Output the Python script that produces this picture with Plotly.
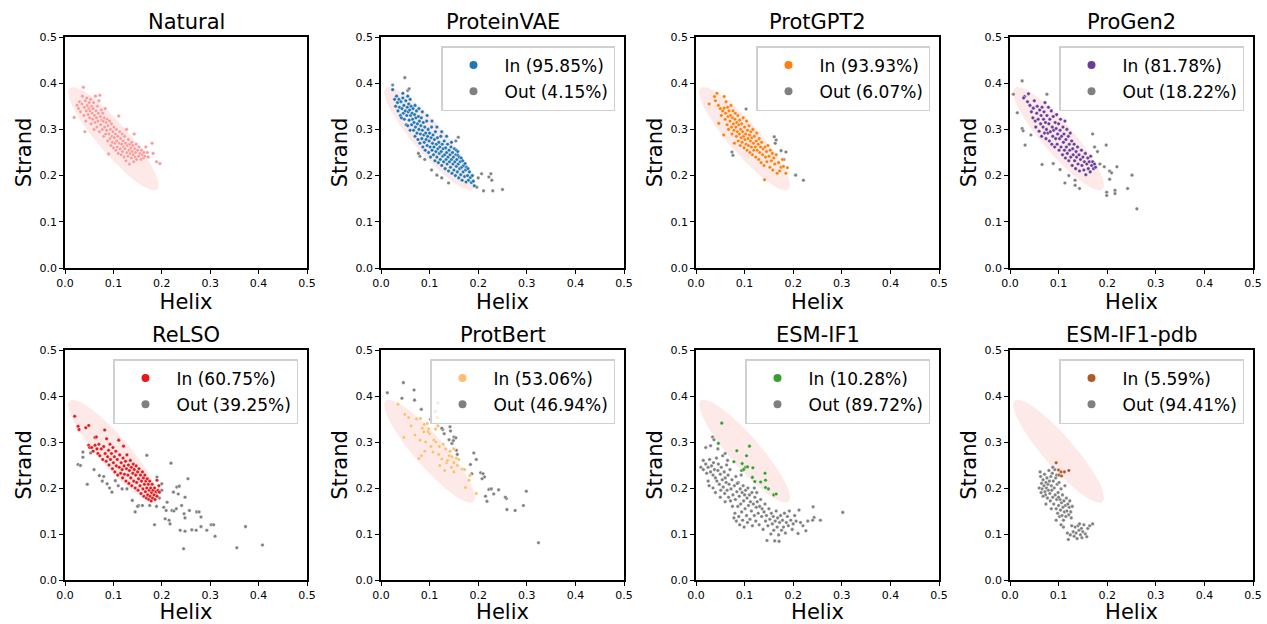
import math
import plotly.graph_objects as go

# ---------------- data ----------------
titles = ["Natural", "ProteinVAE", "ProtGPT2", "ProGen2",
          "ReLSO", "ProtBert", "ESM-IF1", "ESM-IF1-pdb"]
in_colors = ["#fb9a99", "#1f77b4", "#ff7f0e", "#6a3d9a",
             "#e31a1c", "#fdbf6f", "#33a02c", "#b15928"]
out_color = "#808080"
in_pct = [None, "95.85", "93.93", "81.78", "60.75", "53.06", "10.28", "5.59"]
out_pct = [None, "4.15", "6.07", "18.22", "39.25", "46.94", "89.72", "94.41"]
tick_vals = [0.0, 0.1, 0.2, 0.3, 0.4, 0.5]

# natural-distribution ellipse (centre, semi-axes, rotation in degrees)
ell_center = (0.100, 0.280)
ell_axes = (0.142, 0.032)
ell_angle = -50.7

natural = [
    (0.019,0.326),(0.025,0.352),(0.028,0.345),(0.030,0.360),(0.032,0.338),(0.035,0.355),
    (0.036,0.372),(0.038,0.391),(0.039,0.330),(0.040,0.348),(0.041,0.295),(0.042,0.362),
    (0.043,0.318),(0.044,0.340),(0.045,0.368),(0.046,0.352),(0.048,0.332),(0.049,0.345),
    (0.050,0.358),(0.051,0.325),(0.052,0.340),(0.053,0.365),(0.054,0.312),(0.055,0.350),
    (0.056,0.335),(0.057,0.322),(0.058,0.345),(0.059,0.358),(0.060,0.300),(0.061,0.330),
    (0.062,0.315),(0.063,0.372),(0.064,0.340),(0.065,0.325),(0.066,0.305),(0.067,0.350),
    (0.068,0.318),(0.069,0.335),(0.070,0.362),(0.071,0.295),(0.072,0.374),(0.073,0.328),
    (0.074,0.310),(0.075,0.342),(0.076,0.320),(0.077,0.300),(0.078,0.335),(0.079,0.318),
    (0.080,0.285),(0.081,0.325),(0.082,0.305),(0.083,0.345),(0.084,0.290),(0.085,0.315),
    (0.086,0.298),(0.087,0.322),(0.088,0.275),(0.089,0.308),(0.090,0.247),(0.091,0.290),
    (0.092,0.318),(0.093,0.280),(0.094,0.300),(0.095,0.265),(0.096,0.312),(0.097,0.285),
    (0.098,0.272),(0.099,0.295),(0.100,0.260),(0.101,0.305),(0.102,0.282),(0.103,0.270),
    (0.104,0.290),(0.105,0.255),(0.106,0.300),(0.107,0.275),(0.108,0.262),(0.109,0.285),
    (0.110,0.248),(0.111,0.329),(0.112,0.270),(0.113,0.295),(0.114,0.258),(0.115,0.280),
    (0.116,0.245),(0.117,0.268),(0.118,0.290),(0.119,0.252),(0.120,0.275),(0.121,0.262),
    (0.122,0.240),(0.123,0.285),(0.124,0.258),(0.125,0.270),(0.126,0.232),(0.127,0.300),
    (0.128,0.250),(0.129,0.265),(0.130,0.242),(0.131,0.278),(0.132,0.255),(0.133,0.225),
    (0.134,0.268),(0.135,0.248),(0.136,0.260),(0.137,0.238),(0.138,0.272),(0.139,0.252),
    (0.140,0.265),(0.141,0.245),(0.142,0.230),(0.143,0.290),(0.144,0.258),(0.145,0.240),
    (0.146,0.250),(0.147,0.268),(0.148,0.235),(0.150,0.255),(0.152,0.242),(0.153,0.262),
    (0.155,0.248),(0.157,0.235),(0.158,0.255),(0.160,0.245),(0.162,0.238),(0.163,0.250),
    (0.165,0.242),(0.167,0.262),(0.170,0.250),(0.172,0.240),(0.180,0.270),(0.182,0.248),
    (0.189,0.230),(0.196,0.226),
]

vae_in = [
    (0.024,0.386),(0.028,0.365),(0.030,0.350),(0.032,0.372),(0.034,0.358),(0.035,0.340),
    (0.037,0.365),(0.038,0.348),(0.040,0.330),(0.041,0.360),(0.042,0.325),(0.043,0.345),
    (0.045,0.368),(0.046,0.335),(0.047,0.352),(0.048,0.322),(0.050,0.340),(0.051,0.362),
    (0.052,0.310),(0.053,0.330),(0.054,0.348),(0.055,0.308),(0.056,0.338),(0.057,0.355),
    (0.058,0.320),(0.059,0.342),(0.060,0.298),(0.061,0.330),(0.062,0.350),(0.063,0.310),
    (0.064,0.335),(0.065,0.322),(0.066,0.345),(0.067,0.298),(0.068,0.315),(0.069,0.332),
    (0.070,0.285),(0.071,0.305),(0.072,0.325),(0.073,0.340),(0.074,0.292),(0.075,0.312),
    (0.076,0.278),(0.077,0.328),(0.078,0.300),(0.079,0.318),(0.080,0.270),(0.081,0.290),
    (0.082,0.308),(0.083,0.325),(0.084,0.280),(0.085,0.298),(0.086,0.262),(0.087,0.315),
    (0.088,0.288),(0.089,0.272),(0.090,0.305),(0.091,0.255),(0.092,0.292),(0.093,0.278),
    (0.094,0.318),(0.095,0.265),(0.096,0.285),(0.097,0.300),(0.098,0.250),(0.099,0.275),
    (0.100,0.292),(0.101,0.262),(0.102,0.240),(0.103,0.282),(0.104,0.305),(0.105,0.255),
    (0.106,0.270),(0.107,0.288),(0.108,0.245),(0.109,0.262),(0.110,0.278),(0.111,0.232),
    (0.112,0.295),(0.113,0.252),(0.114,0.268),(0.115,0.240),(0.116,0.282),(0.117,0.258),
    (0.118,0.228),(0.119,0.272),(0.120,0.248),(0.121,0.262),(0.122,0.235),(0.123,0.285),
    (0.124,0.252),(0.125,0.222),(0.126,0.268),(0.127,0.242),(0.128,0.258),(0.129,0.230),
    (0.130,0.275),(0.131,0.245),(0.132,0.215),(0.133,0.260),(0.134,0.235),(0.135,0.250),
    (0.136,0.225),(0.137,0.268),(0.138,0.240),(0.139,0.210),(0.140,0.255),(0.141,0.230),
    (0.142,0.245),(0.143,0.218),(0.144,0.262),(0.145,0.235),(0.146,0.205),(0.147,0.250),
    (0.148,0.225),(0.149,0.240),(0.150,0.212),(0.151,0.258),(0.152,0.230),(0.153,0.200),
    (0.154,0.245),(0.155,0.220),(0.156,0.235),(0.157,0.208),(0.158,0.244),(0.159,0.225),
    (0.160,0.195),(0.161,0.240),(0.162,0.215),(0.163,0.230),(0.164,0.202),(0.165,0.238),
    (0.166,0.218),(0.167,0.190),(0.168,0.232),(0.169,0.208),(0.170,0.222),(0.172,0.198),
    (0.173,0.226),(0.174,0.212),(0.175,0.186),(0.176,0.218),(0.178,0.200),(0.179,0.215),
    (0.180,0.190),(0.182,0.208),(0.184,0.196),(0.186,0.185),(0.188,0.200),(0.190,0.188),
    (0.192,0.178),(0.060,0.365),(0.055,0.372),(0.045,0.378),(0.070,0.352),(0.078,0.345),
    (0.085,0.338),(0.095,0.330),(0.105,0.318),(0.115,0.305),(0.125,0.295),(0.135,0.285),
    (0.145,0.272),(0.155,0.255),(0.158,0.252),
]
vae_out = [
    (0.024,0.396),(0.049,0.412),(0.055,0.384),(0.058,0.388),(0.080,0.242),(0.077,0.248),
    (0.159,0.283),(0.154,0.275),(0.207,0.204),(0.226,0.204),(0.228,0.190),(0.211,0.167),
    (0.230,0.167),(0.250,0.170),(0.197,0.175),(0.139,0.184),(0.115,0.201),(0.104,0.212),
    (0.222,0.197),(0.090,0.235),(0.125,0.195),(0.200,0.195),
]

gpt2_in = [
    (0.027,0.355),(0.038,0.371),(0.043,0.378),(0.040,0.362),(0.046,0.352),(0.047,0.313),
    (0.050,0.345),(0.052,0.330),(0.055,0.340),(0.057,0.288),(0.058,0.371),(0.058,0.346),
    (0.060,0.322),(0.061,0.335),(0.062,0.360),(0.064,0.310),(0.065,0.348),(0.066,0.328),
    (0.067,0.300),(0.068,0.340),(0.070,0.318),(0.071,0.330),(0.072,0.352),(0.073,0.305),
    (0.074,0.290),(0.075,0.325),(0.076,0.340),(0.077,0.312),(0.078,0.298),(0.079,0.270),
    (0.080,0.322),(0.081,0.335),(0.082,0.305),(0.083,0.285),(0.084,0.315),(0.085,0.295),
    (0.086,0.330),(0.087,0.275),(0.088,0.310),(0.089,0.290),(0.090,0.320),(0.091,0.265),
    (0.092,0.300),(0.093,0.282),(0.094,0.312),(0.095,0.272),(0.096,0.295),(0.097,0.325),
    (0.098,0.285),(0.099,0.260),(0.100,0.305),(0.101,0.278),(0.102,0.290),(0.103,0.268),
    (0.104,0.318),(0.105,0.255),(0.106,0.298),(0.107,0.280),(0.108,0.265),(0.109,0.308),
    (0.110,0.288),(0.111,0.250),(0.112,0.275),(0.113,0.295),(0.114,0.262),(0.115,0.282),
    (0.116,0.245),(0.117,0.300),(0.118,0.270),(0.119,0.255),(0.120,0.285),(0.122,0.262),
    (0.123,0.240),(0.124,0.275),(0.125,0.292),(0.126,0.255),(0.128,0.268),(0.129,0.235),
    (0.130,0.280),(0.131,0.250),(0.133,0.262),(0.134,0.228),(0.135,0.272),(0.137,0.245),
    (0.138,0.258),(0.140,0.222),(0.141,0.191),(0.142,0.262),(0.143,0.240),(0.145,0.252),
    (0.146,0.230),(0.148,0.265),(0.150,0.242),(0.152,0.218),(0.153,0.255),(0.155,0.232),
    (0.157,0.248),(0.158,0.212),(0.160,0.238),(0.162,0.225),(0.165,0.245),(0.167,0.205),
    (0.170,0.228),(0.172,0.210),(0.175,0.218),(0.178,0.235),(0.180,0.220),(0.188,0.217),
    (0.185,0.205),
]
gpt2_out = [
    (0.103,0.344),(0.076,0.244),(0.074,0.251),(0.161,0.284),(0.165,0.277),(0.175,0.254),
    (0.185,0.251),(0.181,0.235),(0.205,0.201),(0.221,0.190),(0.163,0.270),
]

progen_in = [
    (0.030,0.371),(0.028,0.368),(0.038,0.377),(0.036,0.360),(0.041,0.352),(0.044,0.338),
    (0.047,0.325),(0.048,0.346),(0.050,0.362),(0.052,0.318),(0.053,0.305),(0.055,0.335),
    (0.056,0.350),(0.058,0.322),(0.060,0.296),(0.061,0.342),(0.063,0.312),(0.064,0.330),
    (0.065,0.285),(0.066,0.348),(0.068,0.305),(0.069,0.322),(0.070,0.338),(0.071,0.292),
    (0.072,0.358),(0.073,0.315),(0.074,0.280),(0.075,0.300),(0.076,0.330),(0.078,0.292),
    (0.079,0.348),(0.080,0.312),(0.081,0.275),(0.082,0.322),(0.083,0.295),(0.085,0.340),
    (0.086,0.268),(0.087,0.305),(0.088,0.285),(0.089,0.328),(0.090,0.298),(0.092,0.262),
    (0.093,0.315),(0.094,0.280),(0.095,0.302),(0.096,0.332),(0.097,0.268),(0.098,0.290),
    (0.100,0.312),(0.101,0.255),(0.102,0.280),(0.103,0.298),(0.104,0.322),(0.105,0.262),
    (0.106,0.285),(0.108,0.245),(0.109,0.305),(0.110,0.272),(0.111,0.290),(0.112,0.255),
    (0.113,0.318),(0.114,0.238),(0.115,0.278),(0.116,0.262),(0.117,0.300),(0.118,0.248),
    (0.120,0.285),(0.121,0.232),(0.122,0.268),(0.123,0.255),(0.124,0.292),(0.125,0.240),
    (0.127,0.275),(0.128,0.222),(0.129,0.258),(0.130,0.245),(0.132,0.268),(0.133,0.232),
    (0.135,0.215),(0.136,0.252),(0.137,0.240),(0.139,0.262),(0.140,0.225),(0.142,0.245),
    (0.143,0.210),(0.145,0.235),(0.147,0.255),(0.148,0.222),(0.150,0.240),(0.152,0.212),
    (0.153,0.230),(0.155,0.248),(0.156,0.202),(0.158,0.225),(0.160,0.238),(0.161,0.215),
    (0.163,0.230),(0.165,0.208),(0.166,0.242),(0.168,0.222),(0.170,0.230),(0.172,0.215),
    (0.174,0.225),(0.176,0.218),
]
progen_out = [
    (0.025,0.405),(0.007,0.376),(0.015,0.336),(0.025,0.302),(0.027,0.297),(0.031,0.266),
    (0.043,0.288),(0.066,0.224),(0.076,0.376),(0.089,0.226),(0.113,0.184),(0.134,0.190),
    (0.143,0.172),(0.134,0.179),(0.170,0.290),(0.174,0.262),(0.198,0.266),(0.194,0.219),
    (0.205,0.210),(0.209,0.206),(0.220,0.219),(0.205,0.192),(0.199,0.164),(0.199,0.157),
    (0.216,0.168),(0.216,0.161),(0.242,0.172),(0.251,0.201),(0.261,0.128),(0.180,0.252),
    (0.185,0.225),(0.103,0.213),(0.121,0.200),
]

relso_in = [
    (0.020,0.356),(0.027,0.334),(0.029,0.327),(0.043,0.331),(0.049,0.336),(0.049,0.293),
    (0.051,0.288),(0.055,0.288),(0.058,0.280),(0.062,0.293),(0.062,0.310),(0.065,0.311),
    (0.066,0.285),(0.068,0.275),(0.070,0.295),(0.072,0.270),(0.075,0.285),(0.078,0.262),
    (0.080,0.290),(0.082,0.326),(0.083,0.275),(0.085,0.258),(0.086,0.307),(0.088,0.268),
    (0.090,0.282),(0.091,0.250),(0.093,0.295),(0.094,0.262),(0.096,0.275),(0.098,0.242),
    (0.099,0.288),(0.100,0.255),(0.102,0.268),(0.103,0.235),(0.105,0.280),(0.106,0.248),
    (0.108,0.262),(0.109,0.228),(0.111,0.304),(0.112,0.245),(0.113,0.272),(0.115,0.232),
    (0.116,0.255),(0.118,0.240),(0.119,0.222),(0.120,0.265),(0.121,0.291),(0.122,0.248),
    (0.123,0.230),(0.125,0.258),(0.126,0.215),(0.127,0.242),(0.128,0.272),(0.130,0.228),
    (0.131,0.250),(0.132,0.210),(0.133,0.238),(0.135,0.260),(0.136,0.222),(0.137,0.245),
    (0.138,0.205),(0.140,0.232),(0.141,0.252),(0.142,0.215),(0.143,0.240),(0.145,0.200),
    (0.146,0.228),(0.147,0.248),(0.148,0.212),(0.150,0.235),(0.151,0.195),(0.152,0.220),
    (0.153,0.242),(0.155,0.205),(0.156,0.228),(0.157,0.188),(0.158,0.215),(0.160,0.235),
    (0.161,0.198),(0.162,0.222),(0.163,0.182),(0.164,0.208),(0.165,0.228),(0.166,0.192),
    (0.167,0.215),(0.168,0.178),(0.169,0.200),(0.170,0.220),(0.171,0.185),(0.172,0.208),
    (0.173,0.175),(0.174,0.195),(0.175,0.215),(0.176,0.182),(0.177,0.200),(0.178,0.172),
    (0.179,0.190),(0.180,0.208),(0.181,0.178),(0.182,0.195),(0.184,0.185),(0.185,0.200),
    (0.186,0.175),(0.188,0.192),(0.190,0.217),(0.190,0.182),(0.192,0.195),(0.195,0.191),
    (0.194,0.205),
]
relso_out = [
    (0.037,0.278),(0.037,0.267),(0.027,0.251),(0.032,0.249),(0.046,0.208),(0.053,0.276),
    (0.071,0.227),(0.077,0.215),(0.087,0.209),(0.097,0.191),(0.104,0.216),(0.118,0.198),
    (0.128,0.198),(0.139,0.173),(0.145,0.148),(0.152,0.162),(0.169,0.271),(0.189,0.184),
    (0.190,0.224),(0.200,0.209),(0.204,0.158),(0.207,0.133),(0.209,0.151),(0.217,0.122),
    (0.219,0.254),(0.221,0.151),(0.224,0.191),(0.231,0.202),(0.236,0.204),(0.234,0.187),
    (0.238,0.108),(0.241,0.162),(0.246,0.144),(0.248,0.135),(0.248,0.106),(0.245,0.068),
    (0.248,0.180),(0.254,0.220),(0.257,0.151),(0.262,0.109),(0.271,0.108),(0.272,0.148),
    (0.277,0.148),(0.281,0.137),(0.281,0.116),(0.293,0.108),(0.302,0.120),(0.307,0.120),
    (0.310,0.095),(0.355,0.070),(0.373,0.116),(0.408,0.076),(0.189,0.160),(0.211,0.169),
    (0.225,0.150),(0.092,0.200),(0.110,0.205),(0.150,0.160),(0.160,0.162),(0.175,0.162),
    (0.195,0.178),(0.200,0.195),(0.185,0.120),(0.215,0.130),(0.230,0.155),(0.060,0.240),
    (0.080,0.225),
]

protbert_in = [
    (0.035,0.382),(0.049,0.360),(0.057,0.353),(0.047,0.310),(0.070,0.315),(0.080,0.304),
    (0.078,0.264),(0.083,0.270),(0.081,0.351),(0.089,0.338),(0.088,0.322),(0.098,0.328),
    (0.092,0.300),(0.095,0.340),(0.109,0.304),(0.107,0.278),(0.119,0.273),(0.121,0.249),
    (0.131,0.238),(0.135,0.255),(0.137,0.260),(0.142,0.280),(0.146,0.268),(0.150,0.285),
    (0.157,0.249),(0.167,0.241),(0.172,0.240),(0.181,0.217),(0.183,0.227),(0.174,0.201),
    (0.196,0.188),(0.117,0.335),(0.100,0.318),(0.128,0.295),(0.133,0.285),(0.062,0.335),
    (0.090,0.280),(0.103,0.290),(0.113,0.300),(0.125,0.263),(0.140,0.270),(0.150,0.255),
    (0.155,0.265),(0.160,0.262),(0.145,0.245),(0.085,0.330),(0.097,0.322),(0.073,0.350),
    (0.112,0.328),(0.120,0.290),(0.150,0.235),
]
protbert_out = [
    (0.013,0.407),(0.046,0.429),(0.043,0.395),(0.068,0.413),(0.069,0.391),(0.083,0.371),
    (0.112,0.366),(0.116,0.353),(0.117,0.385),(0.102,0.349),(0.127,0.327),(0.142,0.333),
    (0.143,0.324),(0.150,0.311),(0.154,0.309),(0.146,0.297),(0.149,0.303),(0.155,0.282),
    (0.157,0.273),(0.184,0.251),(0.187,0.231),(0.191,0.276),(0.196,0.262),(0.205,0.233),
    (0.210,0.231),(0.213,0.224),(0.208,0.220),(0.215,0.182),(0.218,0.171),(0.222,0.197),
    (0.227,0.198),(0.232,0.187),(0.242,0.196),(0.258,0.177),(0.259,0.153),(0.256,0.180),
    (0.276,0.151),(0.293,0.162),(0.299,0.193),(0.324,0.081),(0.125,0.330),(0.130,0.318),
    (0.140,0.305),
]

esm_in = [
    (0.053,0.341),(0.046,0.297),(0.084,0.281),(0.110,0.291),(0.104,0.270),(0.095,0.253),
    (0.078,0.257),(0.094,0.238),(0.102,0.245),(0.117,0.244),(0.116,0.223),(0.121,0.214),
    (0.133,0.213),(0.142,0.232),(0.143,0.217),(0.143,0.201),(0.149,0.198),(0.160,0.185),
    (0.165,0.187),(0.098,0.240),(0.106,0.246),
]
esm_out = [
    (0.034,0.311),(0.037,0.305),(0.020,0.288),(0.030,0.292),(0.045,0.285),(0.010,0.245),
    (0.015,0.240),(0.020,0.252),(0.022,0.232),(0.025,0.245),(0.028,0.262),(0.030,0.235),
    (0.032,0.248),(0.035,0.228),(0.036,0.255),(0.038,0.240),(0.040,0.222),(0.042,0.265),
    (0.043,0.215),(0.045,0.238),(0.046,0.252),(0.048,0.208),(0.050,0.230),(0.051,0.195),
    (0.052,0.245),(0.054,0.218),(0.055,0.270),(0.056,0.202),(0.058,0.235),(0.059,0.188),
    (0.060,0.222),(0.062,0.212),(0.063,0.250),(0.064,0.195),(0.066,0.228),(0.067,0.180),
    (0.068,0.208),(0.070,0.240),(0.071,0.172),(0.072,0.198),(0.074,0.218),(0.075,0.160),
    (0.076,0.185),(0.078,0.135),(0.079,0.205),(0.080,0.145),(0.081,0.175),(0.082,0.225),
    (0.083,0.128),(0.084,0.192),(0.086,0.160),(0.087,0.212),(0.088,0.138),(0.089,0.182),
    (0.090,0.120),(0.091,0.198),(0.092,0.165),(0.093,0.228),(0.094,0.148),(0.095,0.190),
    (0.096,0.130),(0.097,0.205),(0.098,0.172),(0.099,0.115),(0.100,0.185),(0.101,0.155),
    (0.102,0.195),(0.104,0.140),(0.105,0.178),(0.106,0.125),(0.107,0.200),(0.108,0.162),
    (0.110,0.185),(0.111,0.132),(0.112,0.170),(0.114,0.150),(0.115,0.190),(0.116,0.118),
    (0.118,0.165),(0.120,0.140),(0.121,0.180),(0.123,0.128),(0.124,0.158),(0.126,0.170),
    (0.128,0.145),(0.130,0.120),(0.131,0.160),(0.133,0.175),(0.135,0.138),(0.136,0.155),
    (0.138,0.110),(0.140,0.148),(0.142,0.165),(0.143,0.128),(0.145,0.140),(0.146,0.086),
    (0.148,0.118),(0.150,0.155),(0.152,0.132),(0.154,0.100),(0.155,0.145),(0.157,0.122),
    (0.159,0.138),(0.160,0.108),(0.162,0.085),(0.163,0.128),(0.165,0.150),(0.167,0.115),
    (0.168,0.135),(0.170,0.098),(0.171,0.084),(0.172,0.125),(0.174,0.140),(0.176,0.108),
    (0.178,0.130),(0.180,0.115),(0.182,0.145),(0.184,0.102),(0.186,0.125),(0.188,0.138),
    (0.190,0.118),(0.192,0.150),(0.195,0.130),(0.198,0.110),(0.200,0.122),(0.203,0.140),
    (0.206,0.128),(0.210,0.101),(0.212,0.152),(0.215,0.125),(0.220,0.118),(0.226,0.107),
    (0.230,0.128),(0.241,0.159),(0.243,0.136),(0.240,0.130),(0.256,0.130),(0.302,0.147),
    (0.015,0.260),(0.025,0.215),(0.035,0.200),(0.040,0.190),(0.050,0.180),(0.060,0.170),
    (0.065,0.260),(0.085,0.210),(0.120,0.200),(0.125,0.190),(0.060,0.275),(0.027,0.205),
]

pdb_in = [
    (0.095,0.255),(0.100,0.239),(0.105,0.235),(0.112,0.235),(0.121,0.238),(0.101,0.228),
    (0.106,0.226),
]
pdb_out = [
    (0.062,0.235),(0.063,0.225),(0.065,0.210),(0.066,0.198),(0.064,0.190),(0.068,0.218),
    (0.070,0.205),(0.071,0.230),(0.072,0.192),(0.073,0.185),(0.074,0.212),(0.075,0.200),
    (0.076,0.222),(0.077,0.178),(0.078,0.208),(0.079,0.195),(0.080,0.238),(0.081,0.215),
    (0.082,0.188),(0.083,0.172),(0.084,0.225),(0.085,0.205),(0.086,0.195),(0.087,0.232),
    (0.088,0.180),(0.089,0.215),(0.090,0.165),(0.091,0.200),(0.092,0.240),(0.093,0.185),
    (0.094,0.222),(0.095,0.155),(0.096,0.175),(0.097,0.208),(0.098,0.145),(0.099,0.190),
    (0.100,0.162),(0.101,0.212),(0.102,0.138),(0.103,0.175),(0.104,0.152),(0.105,0.198),
    (0.106,0.168),(0.107,0.140),(0.108,0.185),(0.109,0.158),(0.110,0.130),(0.111,0.172),
    (0.112,0.148),(0.113,0.205),(0.114,0.162),(0.115,0.138),(0.116,0.178),(0.117,0.150),
    (0.118,0.102),(0.119,0.165),(0.120,0.088),(0.121,0.142),(0.122,0.158),(0.123,0.172),
    (0.124,0.098),(0.125,0.148),(0.126,0.135),(0.127,0.118),(0.128,0.160),(0.130,0.105),
    (0.132,0.095),(0.134,0.115),(0.136,0.102),(0.138,0.090),(0.140,0.118),(0.142,0.108),
    (0.143,0.122),(0.145,0.098),(0.147,0.112),(0.148,0.092),(0.150,0.105),(0.152,0.120),
    (0.155,0.100),(0.158,0.094),(0.160,0.112),(0.164,0.118),(0.170,0.122),(0.074,0.165),
    (0.085,0.155),(0.095,0.130),(0.110,0.115),(0.068,0.182),(0.060,0.200),(0.096,0.228),
    (0.100,0.180),(0.088,0.245),(0.105,0.120),
]

panel_in = [natural, vae_in, gpt2_in, progen_in, relso_in, protbert_in, esm_in, pdb_in]
panel_out = [None, vae_out, gpt2_out, progen_out, relso_out, protbert_out, esm_out, pdb_out]

# ---------------- layout geometry (pixels) ----------------
W, H = 1267, 624
col_px = [(65, 307), (381, 624), (696, 939), (1010, 1253)]
row_px = [(37, 268), (350, 580)]
FONT = "DejaVu Sans"

fig = go.Figure()
layout = dict(
    width=W, height=H, autosize=False,
    margin=dict(l=0, r=0, t=0, b=0, autoexpand=False),
    paper_bgcolor="white", plot_bgcolor="white",
    font=dict(family=FONT, color="black"),
    shapes=[], annotations=[],
)


def ellipse_path():
    cx, cy = ell_center
    a, b = ell_axes
    phi = math.radians(ell_angle)
    pts = []
    for k in range(121):
        t = 2 * math.pi * k / 120
        x = cx + a * math.cos(t) * math.cos(phi) - b * math.sin(t) * math.sin(phi)
        y = cy + a * math.cos(t) * math.sin(phi) + b * math.sin(t) * math.cos(phi)
        pts.append(f"{x:.5f},{y:.5f}")
    return "M " + " L ".join(pts) + " Z"


path = ellipse_path()

for i in range(8):
    r, c = divmod(i, 4)
    n = i + 1
    xa = "xaxis" if n == 1 else f"xaxis{n}"
    ya = "yaxis" if n == 1 else f"yaxis{n}"
    xr = "x" if n == 1 else f"x{n}"
    yr = "y" if n == 1 else f"y{n}"
    x0, x1 = col_px[c]
    y0, y1 = row_px[r]
    xdom = [x0 / W, x1 / W]
    ydom = [1 - y1 / H, 1 - y0 / H]
    common = dict(
        range=[0, 0.5], tickvals=tick_vals, tickformat=".1f",
        ticks="outside", ticklen=4, tickwidth=1.2, tickcolor="black",
        showline=True, linecolor="black", linewidth=1.5, mirror=True,
        showgrid=False, zeroline=False, automargin=False,
        tickfont=dict(size=11, family=FONT, color="black"),
    )
    layout[xa] = dict(common, domain=xdom, anchor=yr,
                      title=dict(text="Helix", font=dict(size=21, family=FONT), standoff=5))
    layout[ya] = dict(common, domain=ydom, anchor=xr,
                      title=dict(text="Strand", font=dict(size=21, family=FONT), standoff=2))

    layout["shapes"].append(dict(type="path", path=path, xref=xr, yref=yr,
                                 fillcolor="#fb9a99", opacity=0.22,
                                 line=dict(width=0), layer="below"))
    layout["annotations"].append(dict(
        text=titles[i], xref="paper", yref="paper",
        x=(xdom[0] + xdom[1]) / 2, y=1 - (y0 - 15) / H,
        xanchor="center", yanchor="middle", showarrow=False,
        font=dict(size=21, family=FONT, color="black")))

    mk = dict(size=3.6, line=dict(width=0.4, color="white"))
    if panel_out[i] is not None:
        fig.add_trace(go.Scatter(
            x=[p[0] for p in panel_out[i]], y=[p[1] for p in panel_out[i]],
            mode="markers", xaxis=xr, yaxis=yr, showlegend=False,
            marker=dict(mk, color=out_color), hoverinfo="x+y"))
    fig.add_trace(go.Scatter(
        x=[p[0] for p in panel_in[i]], y=[p[1] for p in panel_in[i]],
        mode="markers", xaxis=xr, yaxis=yr, showlegend=False,
        marker=dict(mk, color=in_colors[i]), hoverinfo="x+y"))

    if in_pct[i] is not None:
        lg = "legend" if i == 1 else f"legend{i}"
        for label, col in ((f"In ({in_pct[i]}%)", in_colors[i]),
                           (f"Out ({out_pct[i]}%)", out_color)):
            fig.add_trace(go.Scatter(
                x=[None], y=[None], mode="markers", name=label,
                legendgroup=f"{lg}-{label}", legend=lg, xaxis=xr, yaxis=yr,
                marker=dict(size=8, color=col)))
        layout[lg] = dict(
            x=(x1 - 9) / W, xanchor="right", y=1 - (y0 + 9) / H, yanchor="top",
            bgcolor="rgba(255,255,255,0.85)", bordercolor="#d0d0d0", borderwidth=1.5,
            font=dict(size=17, family=FONT, color="black"),
            tracegroupgap=1, itemwidth=52,
        )

fig.update_layout(**layout)
fig.write_html("out.html")
